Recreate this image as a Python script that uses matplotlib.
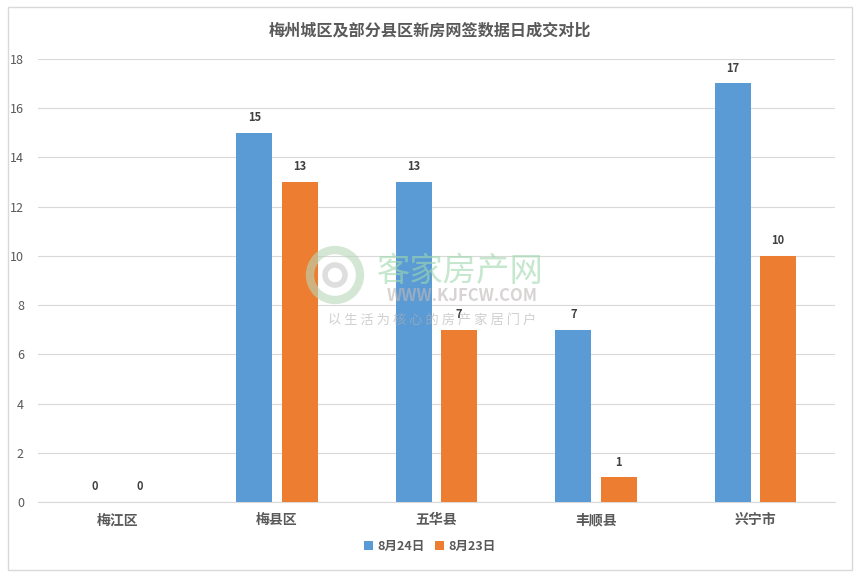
import matplotlib.pyplot as plt
import numpy as np
from matplotlib.patches import Rectangle, Ellipse

plt.rcParams['font.family'] = ['Noto Sans CJK SC', 'DejaVu Sans']

# 数据
categories = ['梅江区', '梅县区', '五华县', '丰顺县', '兴宁市']
aug24 = [0, 15, 13, 7, 17]
aug23 = [0, 13, 7, 1, 10]
series_names = ['8月24日', '8月23日']
colors = ['#5B9BD5', '#ED7D31']

fig = plt.figure(figsize=(8.6, 5.77), dpi=100)
ax = fig.add_axes([0.044, 0.130, 0.927, 0.768])

# 外框
fig.patches.append(Rectangle((0.009, 0.012), 0.982, 0.976, transform=fig.transFigure,
                             fill=False, edgecolor='#d9d9d9', linewidth=1))

x = np.arange(len(categories))
w = 0.226
off = 0.142
for vals, dx, c, name in zip([aug24, aug23], [-off, off], colors, series_names):
    bars = ax.bar(x + dx, vals, width=w, color=c, label=name, zorder=3)
    for b, v in zip(bars, vals):
        ax.text(b.get_x() + b.get_width() / 2, v + 0.35, str(v), ha='center', va='bottom',
                fontsize=8, fontweight='bold', color='#404040', zorder=6)

ax.set_xlim(-0.5, len(categories) - 0.5)
ax.set_ylim(0, 18)
ax.set_yticks(range(0, 19, 2))
ax.grid(axis='y', color='#d9d9d9', linewidth=0.8, zorder=0)
for s in ['top', 'right', 'left']:
    ax.spines[s].set_visible(False)
ax.spines['bottom'].set_color('#d9d9d9')
ax.tick_params(axis='both', length=0, colors='#595959')
ax.tick_params(axis='y', labelsize=9, pad=10)
ax.set_xticks(x)
ax.set_xticklabels(categories, fontsize=10, fontweight='bold', color='#595959')
ax.tick_params(axis='x', pad=8)

fig.text(0.5, 0.948, '梅州城区及部分县区新房网签数据日成交对比', ha='center', va='center',
         fontsize=11.6, fontweight='bold', color='#595959')

fig.legend(loc='center', bbox_to_anchor=(0.5, 0.053), ncol=2, frameon=False,
           fontsize=9, handlelength=0.7, handleheight=0.7, handletextpad=0.4,
           columnspacing=0.8, labelcolor='#595959', prop={'weight': 'bold', 'size': 9})

# 水印
cx, cy = 335 / 860, 1 - 275 / 577
fig.patches.append(Ellipse((cx, cy), 50 / 860, 50 / 577, transform=fig.transFigure,
                           facecolor='none', edgecolor='#b8d8b8', linewidth=6, alpha=0.6, zorder=5))
fig.patches.append(Ellipse((cx, cy), 20 / 860, 20 / 577, transform=fig.transFigure,
                           facecolor='none', edgecolor='#c8c8c8', linewidth=4, alpha=0.6, zorder=5))
fig.text(460 / 860, 1 - 271 / 577, '客家房产网', ha='center', va='center', fontsize=24,
         color='#9ed8ae', alpha=0.6, zorder=5)
fig.text(462 / 860, 1 - 296 / 577, 'WWW.KJFCW.COM', ha='center', va='center', fontsize=12,
         color='#c0b8b8', alpha=0.6, fontweight='bold', zorder=5)
fig.text(432 / 860, 1 - 320 / 577, '以 生 活 为 核 心 的 房 产 家 居 门 户', ha='center', va='center',
         fontsize=9.5, color='#b0b0b0', alpha=0.6, zorder=5)

fig.savefig('out.png', dpi=100)
